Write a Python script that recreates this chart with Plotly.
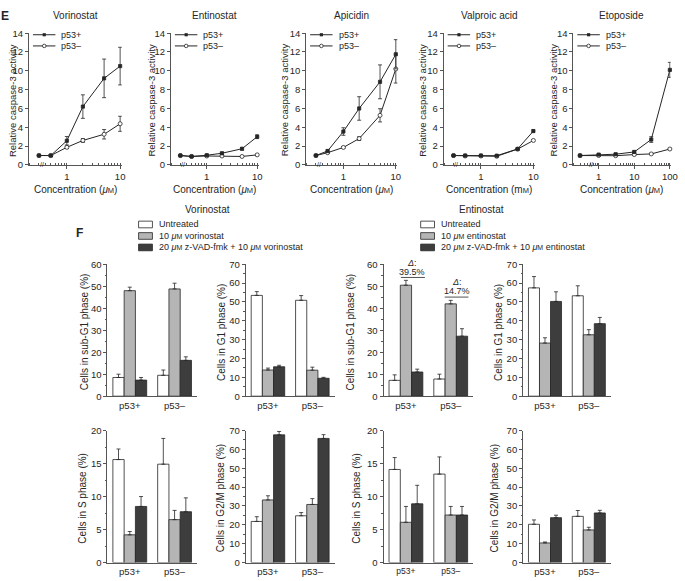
import plotly.graph_objects as go

W, H = 685, 581
FONT = "Arial, 'Liberation Sans', Helvetica, sans-serif"
INK = "#262626"
AXIS = "#555555"

# ---------------- E: relative caspase-3 activity ----------------
# the first point of each series is the untreated control, drawn left of the axis break
conc_hdac = [0.3, 0.5, 1, 2, 5, 10]
conc_eto = [0.3, 1, 3, 10, 30, 100]

vor_pos = [1.0, 1.0, 2.57, 6.2, 9.2, 10.5]
vor_pos_err = [0, 0.1, 0.45, 1.25, 2.05, 2.0]
vor_neg = [1.0, 1.0, 1.87, 2.6, 3.26, 4.37]
vor_neg_err = [0, 0.08, 0.12, 0.2, 0.5, 0.8]

ent_pos = [1.0, 0.9, 1.03, 1.24, 1.72, 3.0]
ent_pos_err = [0, 0.05, 0.08, 0.1, 0.12, 0.2]
ent_neg = [1.0, 0.9, 0.95, 0.95, 0.9, 1.07]
ent_neg_err = [0, 0.05, 0.05, 0.05, 0.05, 0.08]

api_pos = [1.0, 1.48, 3.55, 6.0, 8.83, 11.76]
api_pos_err = [0, 0.12, 0.4, 1.25, 1.8, 1.55]
api_neg = [1.0, 1.3, 1.86, 2.8, 5.27, 10.2]
api_neg_err = [0, 0.08, 0.1, 0.2, 0.7, 1.5]

vpa_pos = [1.0, 1.0, 1.0, 0.98, 1.7, 3.6]
vpa_pos_err = [0, 0.05, 0.05, 0.05, 0.08, 0.12]
vpa_neg = [1.0, 0.95, 0.95, 0.92, 1.68, 2.6]
vpa_neg_err = [0, 0.05, 0.05, 0.05, 0.08, 0.1]

eto_pos = [1.0, 1.1, 1.14, 1.38, 2.7, 10.1]
eto_pos_err = [0, 0.08, 0.08, 0.1, 0.3, 0.8]
eto_neg = [1.0, 1.0, 0.98, 1.1, 1.17, 1.69]
eto_neg_err = [0, 0.05, 0.05, 0.05, 0.06, 0.08]

drug_names = ["Vorinostat", "Entinostat", "Apicidin", "Valproic acid", "Etoposide"]
conc_units = ["μM", "μM", "μM", "mM", "μM"]

# ---------------- F: cell-cycle distribution ----------------
groups = ["p53+", "p53–"]
treat_labels_vor = ["Untreated", "10 <i>μ</i><span style='font-size:7px'>M</span> vorinostat",
                    "20 <i>μ</i><span style='font-size:7px'>M</span> z-VAD-fmk + 10 <i>μ</i><span style='font-size:7px'>M</span> vorinostat"]
treat_labels_ent = ["Untreated", "10 <i>μ</i><span style='font-size:7px'>M</span> entinostat",
                    "20 <i>μ</i><span style='font-size:7px'>M</span> z-VAD-fmk + 10 <i>μ</i><span style='font-size:7px'>M</span> entinostat"]

# [untreated, drug, z-VAD + drug], each [p53+, p53-]; errors are the upward bar
vor_subg1 = [[8.5, 9.5], [48.0, 48.8], [7.3, 16.3]]
vor_subg1_err = [[1.5, 2.4], [1.6, 2.6], [1.2, 1.6]]
vor_g1 = [[53.5, 50.9], [13.9, 13.8], [15.6, 9.5]]
vor_g1_err = [[2.0, 2.5], [1.0, 1.6], [0.8, 0.5]]
vor_s = [[15.6, 14.9], [4.2, 6.5], [8.5, 7.7]]
vor_s_err = [[1.6, 3.9], [0.5, 1.4], [1.5, 2.1]]
vor_g2m = [[21.8, 24.8], [33.2, 30.8], [67.7, 65.8]]
vor_g2m_err = [[2.5, 1.7], [2.2, 3.1], [1.8, 2.0]]

ent_subg1 = [[7.2, 7.8], [50.5, 42.0], [11.0, 27.3]]
ent_subg1_err = [[2.5, 2.2], [2.2, 1.6], [1.3, 3.4]]
ent_g1 = [[57.5, 53.3], [28.2, 32.6], [50.3, 38.5]]
ent_g1_err = [[6.0, 5.3], [2.8, 2.7], [5.1, 3.3]]
ent_s = [[14.1, 13.4], [6.1, 7.2], [8.9, 7.2]]
ent_s_err = [[1.8, 2.6], [2.4, 1.3], [2.8, 1.3]]
ent_g2m = [[20.3, 24.5], [10.4, 17.3], [23.8, 26.3]]
ent_g2m_err = [[2.3, 3.1], [0.5, 1.4], [1.3, 1.4]]

delta_labels = ["39.5%", "14.7%"]

BAR_FILLS = ["#ffffff", "#b5b5b5", "#3d3d3d"]


def px_x(p):
    return p / W


def px_y(p):
    return 1 - p / H


def ids(n):
    s = "" if n == 1 else str(n)
    return "xaxis" + s, "yaxis" + s, "x" + s, "y" + s


fig = go.Figure()
annotations = []
shapes = []


def text(x, y, s, size=10, angle=0, xanchor="center", bold=False):
    annotations.append(dict(x=px_x(x), y=px_y(y), xref="paper", yref="paper", text=s,
                            showarrow=False, xanchor=xanchor, yanchor="middle",
                            textangle=angle, font=dict(size=size, color=INK,
                            weight="bold" if bold else "normal")))


# ---------- top row: line plots ----------
top_boxes = [(29.3, 123.0), (172.7, 261.4), (309.3, 401.5), (448.3, 540.5), (579.3, 677.5)]
top_ranges = [[-0.71, 1.03]] * 4 + [[-0.71, 2.02]]
break_log = [-0.47, -0.47, -0.47, -0.47, -0.21]
ytitle_x = [12, 153, 287, 427, 559]
TOP_T, TOP_B = 27.7, 162.0

series = [
    (conc_hdac, vor_pos, vor_pos_err, vor_neg, vor_neg_err),
    (conc_hdac, ent_pos, ent_pos_err, ent_neg, ent_neg_err),
    (conc_hdac, api_pos, api_pos_err, api_neg, api_neg_err),
    (conc_hdac, vpa_pos, vpa_pos_err, vpa_neg, vpa_neg_err),
    (conc_eto, eto_pos, eto_pos_err, eto_neg, eto_neg_err),
]

for i, (conc, pos, pos_err, neg, neg_err) in enumerate(series):
    n = i + 1
    xa, ya, xid, yid = ids(n)
    left, right = top_boxes[i]
    fig.update_layout({
        xa: dict(domain=[px_x(left), px_x(right)], anchor=yid, type="log", range=top_ranges[i],
                 tick0=0, dtick=1, ticks="outside", ticklen=3, tickcolor=AXIS, showline=True,
                 linecolor=AXIS, linewidth=1, showgrid=False, zeroline=False, tickfont=dict(size=9.5),
                 minor=dict(ticks="inside", ticklen=2, tickwidth=1, tickcolor=AXIS, showgrid=False)),
        ya: dict(domain=[px_y(TOP_B), px_y(TOP_T)], anchor=xid, range=[0, 14], dtick=2,
                 ticks="outside", ticklen=3, tickcolor=AXIS, showline=True, linecolor=AXIS,
                 linewidth=1, showgrid=False, zeroline=False, tickfont=dict(size=9.5)),
    })
    for vals, errs, filled in [(neg, neg_err, False), (pos, pos_err, True)]:
        fig.add_trace(go.Scatter(
            x=conc, y=vals, xaxis=xid, yaxis=yid, mode="lines+markers", cliponaxis=False,
            line=dict(color=INK, width=1),
            marker=dict(symbol="square" if filled else "circle", size=3.2 if filled else 4,
                        color=INK if filled else "white", line=dict(color=INK, width=0.8)),
            error_y=dict(type="data", array=errs, color=INK, thickness=0.8, width=2),
            showlegend=False))
    # axis break
    annotations.append(dict(x=break_log[i], y=0, xref=xid, yref=yid, text="//", showarrow=False,
                            font=dict(size=7, color=INK), xanchor="center", yanchor="middle"))
    cx = (left + right) / 2
    text(cx, 10, drug_names[i], size=10)
    text(cx, 187, "Concentration (<i>μ</i><span style='font-size:7.5px'>M</span>)" if conc_units[i] == "μM"
         else "Concentration (m<span style='font-size:7.5px'>M</span>)", size=10)
    text(ytitle_x[i], 96, "Relative caspase-3 activity", size=9.5, angle=-90)
    # in-plot legend
    for row, (lab, filled) in enumerate([("p53+", True), ("p53–", False)]):
        yy = 29.3 + row * 11.4
        shapes.append(dict(type="line", xref="paper", yref="paper", x0=px_x(left + 4), x1=px_x(left + 26.7),
                           y0=px_y(yy), y1=px_y(yy), line=dict(color=INK, width=1)))
        mx = left + 15.4
        if filled:
            shapes.append(dict(type="rect", xref="paper", yref="paper", x0=px_x(mx - 1.6), x1=px_x(mx + 1.6),
                               y0=px_y(yy + 1.6), y1=px_y(yy - 1.6), fillcolor=INK, line=dict(width=0)))
        else:
            shapes.append(dict(type="circle", xref="paper", yref="paper", x0=px_x(mx - 1.8), x1=px_x(mx + 1.8),
                               y0=px_y(yy + 1.8), y1=px_y(yy - 1.8), fillcolor="white",
                               line=dict(color=INK, width=0.8)))
        text(left + 30.7, yy, lab, size=9, xanchor="left")

text(5, 10, "E", size=12, bold=True)

# ---------- panel F: bar plots ----------
bar_cols = [(108.5, 199.0), (248.3, 338.0), (387.5, 478.0), (528.5, 617.0)]
bar_rows = [(263.3, 397.7), (432.7, 567.3)]
bar_panels = [
    (vor_subg1, vor_subg1_err, 60, 10, "Cells in sub-G1 phase (%)", 85),
    (vor_g1, vor_g1_err, 70, 10, "Cells in G1 phase (%)", 223),
    (ent_subg1, ent_subg1_err, 60, 10, "Cells in sub-G1 phase (%)", 354),
    (ent_g1, ent_g1_err, 70, 10, "Cells in G1 phase (%)", 503),
    (vor_s, vor_s_err, 20, 5, "Cells in S phase (%)", 83),
    (vor_g2m, vor_g2m_err, 70, 10, "Cells in G2/M phase (%)", 223),
    (ent_s, ent_s_err, 20, 5, "Cells in S phase (%)", 360),
    (ent_g2m, ent_g2m_err, 70, 10, "Cells in G2/M phase (%)", 500),
]

for j, (vals, errs, ymax, dt, ytitle, tx) in enumerate(bar_panels):
    n = 6 + j
    xa, ya, xid, yid = ids(n)
    left, right = bar_cols[j % 4]
    top, bottom = bar_rows[j // 4]
    small = (j == 6)
    fig.update_layout({
        xa: dict(domain=[px_x(left), px_x(right)], anchor=yid, range=[-0.5, 1.5], showline=True,
                 linecolor=AXIS, linewidth=1, ticks="", ticklen=0, showgrid=False, zeroline=False,
                 tickfont=dict(size=8.5 if small else 9.5)),
        ya: dict(domain=[px_y(bottom), px_y(top)], anchor=xid, range=[0, ymax], dtick=dt,
                 ticks="outside", ticklen=3, tickcolor=AXIS, showline=True, linecolor=AXIS,
                 linewidth=1, showgrid=False, zeroline=False, tickfont=dict(size=9.5),
                 minor=dict(dtick=dt / 2, ticks="outside", ticklen=1.5, tickcolor=AXIS, showgrid=False)),
    })
    for k in range(3):
        fig.add_trace(go.Bar(
            x=groups, y=vals[k], xaxis=xid, yaxis=yid, offsetgroup=str(k),
            marker=dict(color=BAR_FILLS[k], line=dict(color=INK, width=0.8)),
            error_y=dict(type="data", symmetric=False, array=errs[k], arrayminus=[0, 0],
                         color=INK, thickness=0.8, width=2),
            showlegend=False))
    text(tx, (top + bottom) / 2 + 2, ytitle, size=10, angle=-90)

# delta annotations above entinostat sub-G1 bars
for (cx, ty, ly, x0, x1), lab in zip([(416.7, 261.7, 276.7, 405.0, 429.3),
                                     (461.3, 281.0, 296.7, 449.3, 473.3)], delta_labels):
    text(cx, ty, "<i>Δ</i>:", size=9)
    text(cx, ty + 9, lab, size=9)
    shapes.append(dict(type="line", xref="paper", yref="paper", x0=px_x(x0), x1=px_x(x1),
                       y0=px_y(ly), y1=px_y(ly), line=dict(color=INK, width=0.8)))

# legends for F
text(80, 231, "F", size=12, bold=True)
for (title_x, box_x, labels, title) in [(210, 140, treat_labels_vor, "Vorinostat"),
                                         (486.7, 425, treat_labels_ent, "Entinostat")]:
    text(title_x, 207, title, size=10)
    for k, lab in enumerate(labels):
        yy = 222.7 + k * 11.7
        shapes.append(dict(type="rect", xref="paper", yref="paper", x0=px_x(box_x), x1=px_x(box_x + 14),
                           y0=px_y(yy + 3.4), y1=px_y(yy - 3.4), fillcolor=BAR_FILLS[k],
                           line=dict(color=INK, width=0.8)))
        text(box_x + 19, yy, lab, size=9, xanchor="left")

fig.update_layout(
    width=W, height=H, autosize=False,
    margin=dict(l=0, r=0, t=0, b=0),
    paper_bgcolor="white", plot_bgcolor="white",
    font=dict(family=FONT, size=10, color=INK),
    barmode="group", bargap=0.245, bargroupgap=0,
    annotations=annotations, shapes=shapes,
    showlegend=False,
)

# the browser's default body margin would shift the 685x581 figure out of the window
fig.write_html("out.html", config={"displayModeBar": False},
               post_script="document.body.style.margin='0';document.body.style.overflow='hidden';")
